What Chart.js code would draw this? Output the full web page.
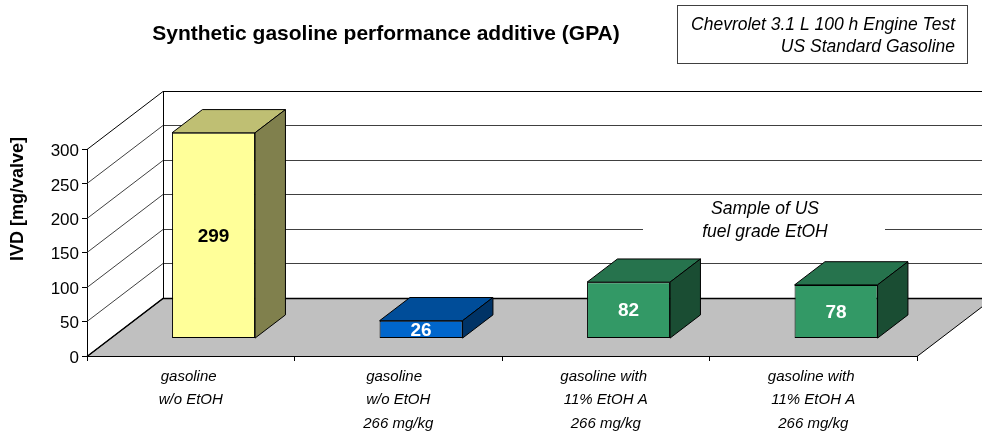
<!DOCTYPE html>
<html>
<head>
<meta charset="utf-8">
<title>Synthetic gasoline performance additive (GPA)</title>
<script src="https://cdn.jsdelivr.net/npm/chart.js@4/dist/chart.umd.js"></script>
<style>
    html, body { margin: 0; padding: 0; background: #fff; }
    canvas { display: block; }
</style>
</head>
<body>
<canvas id="gpaChart" width="982" height="435"></canvas>
<script>
const chartTitle = 'Synthetic gasoline performance additive (GPA)';
const yAxisTitle = 'IVD [mg/valve]';
const testNote = ['Chevrolet 3.1 L 100 h Engine Test', 'US Standard Gasoline'];
const sampleNote = ['Sample of US', 'fuel grade EtOH'];

const categories = [
    ['gasoline ', 'w/o EtOH'],
    ['gasoline  ', 'w/o EtOH', '266 mg/kg'],
    ['gasoline with ', '11% EtOH A', '266 mg/kg'],
    ['gasoline with ', '11% EtOH A', '266 mg/kg']
];
const ivdValues = [299, 26, 82, 78];
const yTicks = [0, 50, 100, 150, 200, 250, 300];

const barColors = ['#FFFF99', '#0066CC', '#339966', '#339966'];
const barTopColors = ['#BFBF73', '#004D99', '#26734D', '#26734D'];
const barSideColors = ['#80804D', '#003366', '#1A4D33', '#1A4D33'];
const labelColors = ['#000000', '#FFFFFF', '#FFFFFF', '#FFFFFF'];

const FONT = '"Liberation Sans", Arial, sans-serif';

// depth of the 3D floor, and where the bars stand inside it
const DEPTH_X = 76;
const DEPTH_Y = 58;
const BAR_FRONT = 0.3;
const BAR_DEPTH = 0.4;

function drawWalls(chart) {
    const ctx = chart.ctx;
    const area = chart.chartArea;
    const y = chart.scales.y;
    const base = Math.floor(y.getPixelForValue(0)) + 0.5;

    ctx.save();

    // floor
    ctx.beginPath();
    ctx.moveTo(area.left, base);
    ctx.lineTo(area.right, base);
    ctx.lineTo(area.right + DEPTH_X, base - DEPTH_Y);
    ctx.lineTo(area.left + DEPTH_X, base - DEPTH_Y);
    ctx.closePath();
    ctx.fillStyle = '#C0C0C0';
    ctx.fill();
    ctx.lineWidth = 1;
    ctx.strokeStyle = '#000000';
    ctx.stroke();

    // grid lines on the side wall and the back wall
    yTicks.forEach(value => {
        const py = Math.floor(y.getPixelForValue(value)) + 0.5;
        ctx.beginPath();
        ctx.moveTo(area.left, py);
        ctx.lineTo(area.left + DEPTH_X, py - DEPTH_Y);
        ctx.lineTo(area.right + DEPTH_X, py - DEPTH_Y);
        ctx.lineWidth = value === 0 ? 1.5 : 1;
        ctx.strokeStyle = value === 0 || value === 300 ? '#000000' : '#404040';
        ctx.stroke();
    });

    // back wall left edge
    ctx.beginPath();
    const backX = Math.round(area.left + DEPTH_X) + 0.5;
    ctx.moveTo(backX, Math.floor(y.getPixelForValue(300)) + 0.5 - DEPTH_Y);
    ctx.lineTo(backX, base - DEPTH_Y);
    ctx.lineWidth = 1;
    ctx.strokeStyle = '#000000';
    ctx.stroke();

    // white patch behind the sample note, it hides one grid line
    ctx.fillStyle = '#FFFFFF';
    ctx.fillRect(643, 197, 242, 64);

    ctx.restore();
}

function drawBarFaces(chart) {
    const ctx = chart.ctx;
    const dx = DEPTH_X * BAR_DEPTH;
    const dy = DEPTH_Y * BAR_DEPTH;

    chart.getDatasetMeta(0).data.forEach((bar, i) => {
        const left = bar.x - bar.width / 2;
        const right = bar.x + bar.width / 2;

        ctx.lineWidth = 1;
        ctx.strokeStyle = '#000000';

        ctx.beginPath();
        ctx.moveTo(left, bar.y);
        ctx.lineTo(left + dx, bar.y - dy);
        ctx.lineTo(right + dx, bar.y - dy);
        ctx.lineTo(right, bar.y);
        ctx.closePath();
        ctx.fillStyle = barTopColors[i];
        ctx.fill();
        ctx.stroke();

        ctx.beginPath();
        ctx.moveTo(right, bar.y);
        ctx.lineTo(right + dx, bar.y - dy);
        ctx.lineTo(right + dx, bar.base - dy);
        ctx.lineTo(right, bar.base);
        ctx.closePath();
        ctx.fillStyle = barSideColors[i];
        ctx.fill();
        ctx.stroke();
    });
}

function drawValueLabels(chart) {
    const ctx = chart.ctx;
    ctx.save();
    ctx.font = 'bold 19px ' + FONT;
    ctx.textAlign = 'center';
    ctx.textBaseline = 'middle';
    chart.getDatasetMeta(0).data.forEach((bar, i) => {
        ctx.fillStyle = labelColors[i];
        ctx.fillText(String(ivdValues[i]), bar.x + DEPTH_X * BAR_FRONT, (bar.y + bar.base) / 2 - DEPTH_Y * BAR_FRONT + 1);
    });
    ctx.restore();
}

function drawNotes(chart) {
    const ctx = chart.ctx;
    ctx.save();
    ctx.textBaseline = 'middle';

    // chart title
    ctx.fillStyle = '#000000';
    ctx.font = 'bold 21px ' + FONT;
    ctx.textAlign = 'center';
    ctx.fillText(chartTitle, 386, 34);

    // y axis title
    ctx.save();
    ctx.translate(18, 199);
    ctx.rotate(-Math.PI / 2);
    ctx.font = 'bold 18px ' + FONT;
    ctx.fillText(yAxisTitle, 0, 0);
    ctx.restore();

    // engine test box
    ctx.fillStyle = '#FFFFFF';
    ctx.strokeStyle = '#404040';
    ctx.lineWidth = 1;
    ctx.fillRect(678, 6, 289, 57);
    ctx.strokeRect(677.5, 5.5, 290, 58);
    ctx.fillStyle = '#000000';
    ctx.font = 'italic 17.5px ' + FONT;
    ctx.textAlign = 'right';
    ctx.fillText(testNote[0], 955, 25);
    ctx.fillText(testNote[1], 955, 47);

    // sample note
    ctx.textAlign = 'center';
    ctx.fillText(sampleNote[0], 765, 209.5);
    ctx.fillText(sampleNote[1], 765, 232);

    ctx.restore();
}

const depthPlugin = {
    id: 'depthPlugin',
    afterUpdate(chart) {
        // y tick numbers sit a little below their tick marks in the original
        chart.scales.y.getLabelItems(chart.chartArea).forEach(item => {
            item.options.translation[1] += 2;
        });
    },
    beforeDatasetsDraw(chart) {
        const ctx = chart.ctx;
        drawWalls(chart);
        // bars are drawn by the library, shifted back into the floor
        ctx.save();
        ctx.translate(DEPTH_X * BAR_FRONT, -DEPTH_Y * BAR_FRONT);
        drawBarFaces(chart);
    },
    afterDatasetsDraw(chart) {
        chart.ctx.restore();
        drawValueLabels(chart);
    },
    afterDraw(chart) {
        drawNotes(chart);
    }
};

new Chart(document.getElementById('gpaChart'), {
    type: 'bar',
    data: {
        labels: categories,
        datasets: [{
            data: ivdValues,
            backgroundColor: barColors,
            borderColor: '#000000',
            borderWidth: 1,
            borderSkipped: false,
            barPercentage: 1,
            categoryPercentage: 0.4,
            clip: false
        }]
    },
    options: {
        responsive: false,
        animation: false,
        layout: {
            padding: { left: 0, right: 65, top: 149.5, bottom: 0 }
        },
        plugins: {
            legend: { display: false },
            title: { display: false },
            tooltip: { enabled: false }
        },
        scales: {
            x: {
                afterFit(scale) { scale.height = 79; },
                border: { color: '#000000' },
                grid: { drawOnChartArea: false, color: '#000000', tickLength: 5 },
                ticks: {
                    autoSkip: false,
                    maxRotation: 0,
                    minRotation: 0,
                    padding: 4,
                    color: '#000000',
                    font: { family: FONT, size: 15, style: 'italic', lineHeight: 1.57 }
                }
            },
            y: {
                min: 0,
                max: 300,
                afterFit(scale) { scale.width = 87; },
                afterBuildTicks(scale) { scale.ticks = yTicks.map(value => ({ value })); },
                border: { color: '#000000' },
                grid: { drawOnChartArea: false, color: '#000000', tickLength: 5 },
                ticks: {
                    padding: 3,
                    color: '#000000',
                    font: { family: FONT, size: 17 }
                }
            }
        }
    },
    plugins: [depthPlugin]
});
</script>
</body>
</html>
